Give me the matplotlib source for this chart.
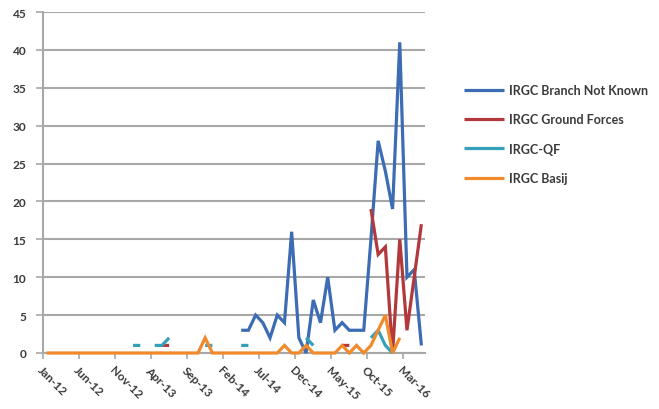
import numpy as np
import matplotlib
matplotlib.use("Agg")
import matplotlib.pyplot as plt

plt.rcParams['font.family'] = ['Lato', 'DejaVu Sans']

N = None
tick_labels = ["Jan-12", "Jun-12", "Nov-12", "Apr-13", "Sep-13", "Feb-14",
               "Jul-14", "Dec-14", "May-15", "Oct-15", "Mar-16"]

# monthly values, Jan-12 .. May-16 (53 months)
branch_not_known = [N, N, N, N, N, N, N, N, N, N,
                    N, N, N, N, N, N, N, N, N, N,
                    N, N, N, N, N, N, N, 3, 3, 5,
                    4, 2, 5, 4, 16, 2, 0, 7, 4, 10,
                    3, 4, 3, 3, 3, 15, 28, 24, 19, 41,
                    10, 11, 1]
ground_forces = [N, N, N, N, N, N, N, N, N, N,
                 N, N, N, N, N, N, 1, 1, N, N,
                 N, N, N, N, N, N, N, N, N, N,
                 N, N, N, N, N, N, N, N, N, N,
                 N, 1, 1, N, N, 19, 13, 14, 0, 15,
                 3, 10, 17]
qf = [N, N, N, N, N, N, N, N, N, N,
      N, N, 1, 1, N, 1, 1, 2, N, N,
      N, N, 1, 1, N, N, N, 1, 1, N,
      N, N, N, N, N, N, 2, 1, N, N,
      N, N, N, N, N, 2, 3, 1, 0, N,
      N, N, N]
basij = [0, 0, 0, 0, 0, 0, 0, 0, 0, 0,
         0, 0, 0, 0, 0, 0, 0, 0, 0, 0,
         0, 0, 2, 0, 0, 0, 0, 0, 0, 0,
         0, 0, 0, 1, 0, 0, 1, 0, 0, 0,
         0, 1, 0, 1, 0, 1, 3, 5, 0, 2,
         N, N, N]

series = [
    ("IRGC Branch Not Known", branch_not_known, "#3c6cb3"),
    ("IRGC Ground Forces", ground_forces, "#b3383b"),
    ("IRGC-QF", qf, "#35a0b9"),
    ("IRGC Basij", basij, "#f08a2c"),
]

fig = plt.figure(figsize=(6.59, 4.10), dpi=100)
ax = fig.add_axes([43/659, 56/410, 382/659, 341/410])

x = np.arange(len(basij)) + 0.5
for name, vals, col in series:
    y = np.array(vals, dtype=float)
    ax.plot(x, y, color=col, lw=2.3, label=name, solid_capstyle='butt',
            solid_joinstyle='miter', clip_on=False, zorder=3)

ax.set_xlim(0, len(basij))
ax.set_ylim(0, 45)
ax.set_yticks(np.arange(0, 46, 5))
ax.set_xticks(np.arange(0, 51, 5))
ax.set_xticklabels(tick_labels, rotation=-45, ha='left', va='top',
                   rotation_mode='anchor')
ax.yaxis.grid(True, color='#a8a8a8', lw=1.5)
ax.set_axisbelow(True)
for s in ['top', 'right']:
    ax.spines[s].set_visible(False)
for s in ['left', 'bottom']:
    ax.spines[s].set_color('#a8a8a8')
    ax.spines[s].set_linewidth(1.5)
    ax.spines[s].set_zorder(1)
ax.tick_params(axis='y', direction='out', length=5, width=1.2, color='#a8a8a8',
               labelsize=8.6, labelcolor='#3a3a3a', pad=7)
ax.tick_params(axis='x', direction='out', length=4, width=1.2, color='#a8a8a8',
               labelsize=8.6, labelcolor='#3a3a3a', pad=4)
for lab in ax.get_xticklabels() + ax.get_yticklabels():
    lab.set_fontweight('bold')

leg = ax.legend(loc='upper left', bbox_to_anchor=(453/659, 1 - 74/410),
                bbox_transform=fig.transFigure, frameon=False,
                prop={'size': 9, 'weight': 'bold'}, handlelength=3.2,
                handletextpad=0.35, labelspacing=1.38)
for t in leg.get_texts():
    t.set_color('#3a3a3a')

fig.savefig("out.png", dpi=100)
